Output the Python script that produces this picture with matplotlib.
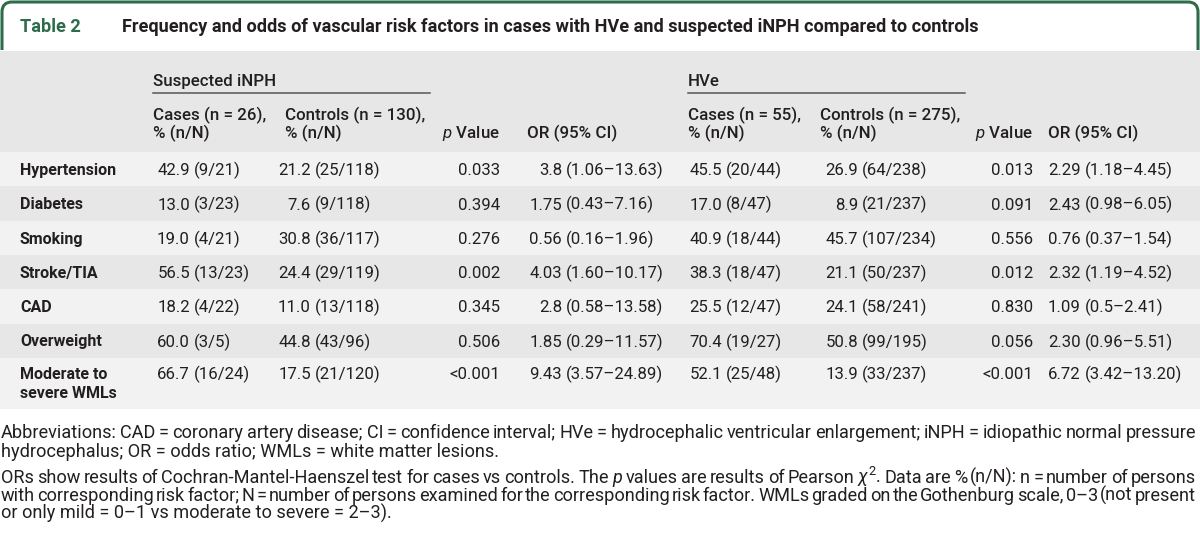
import matplotlib
matplotlib.use("Agg")
import matplotlib.pyplot as plt
from matplotlib.path import Path
from matplotlib.patches import PathPatch, Rectangle

plt.rcParams['font.family'] = ['Roboto', 'DejaVu Sans']
plt.rcParams['mathtext.fontset'] = 'custom'
plt.rcParams['mathtext.rm'] = 'Roboto'
plt.rcParams['mathtext.it'] = 'Roboto:italic'
plt.rcParams['mathtext.bf'] = 'Roboto:bold'

# ---------------- data ----------------
table_label = "Table 2"
table_title = ("Frequency and odds of vascular risk factors in cases with HVe "
               "and suspected iNPH compared to controls")
group_labels = ["Suspected iNPH", "HVe"]
col_cases_inph = ["Cases (n = 26),", "% (n/N)"]
col_ctrl_inph = ["Controls (n = 130),", "% (n/N)"]
col_cases_hve = ["Cases (n = 55),", "% (n/N)"]
col_ctrl_hve = ["Controls (n = 275),", "% (n/N)"]
col_p = "$\\mathit{p}$ Value"
col_or = "OR (95% CI)"

risk_factors = ["Hypertension", "Diabetes", "Smoking", "Stroke/TIA", "CAD",
                "Overweight", "Moderate to\nsevere WMLs"]
inph_cases = ["42.9 (9/21)", "13.0 (3/23)", "19.0 (4/21)", "56.5 (13/23)",
              "18.2 (4/22)", "60.0 (3/5)", "66.7 (16/24)"]
inph_controls = ["21.2 (25/118)", "7.6 (9/118)", "30.8 (36/117)", "24.4 (29/119)",
                 "11.0 (13/118)", "44.8 (43/96)", "17.5 (21/120)"]
inph_p = ["0.033", "0.394", "0.276", "0.002", "0.345", "0.506", "<0.001"]
inph_or = ["3.8 (1.06–13.63)", "1.75 (0.43–7.16)", "0.56 (0.16–1.96)",
           "4.03 (1.60–10.17)", "2.8 (0.58–13.58)", "1.85 (0.29–11.57)",
           "9.43 (3.57–24.89)"]
hve_cases = ["45.5 (20/44)", "17.0 (8/47)", "40.9 (18/44)", "38.3 (18/47)",
             "25.5 (12/47)", "70.4 (19/27)", "52.1 (25/48)"]
hve_controls = ["26.9 (64/238)", "8.9 (21/237)", "45.7 (107/234)", "21.1 (50/237)",
                "24.1 (58/241)", "50.8 (99/195)", "13.9 (33/237)"]
hve_p = ["0.013", "0.091", "0.556", "0.012", "0.830", "0.056", "<0.001"]
hve_or = ["2.29 (1.18–4.45)", "2.43 (0.98–6.05)", "0.76 (0.37–1.54)",
          "2.32 (1.19–4.52)", "1.09 (0.5–2.41)", "2.30 (0.96–5.51)",
          "6.72 (3.42–13.20)"]

footer_lines = [
    ("Abbreviations: CAD = coronary artery disease; CI = confidence interval; HVe = "
     "hydrocephalic ventricular enlargement; iNPH = idiopathic normal pressure", True),
    ("hydrocephalus; OR = odds ratio; WMLs = white matter lesions.", False),
    ("ORs show results of Cochran-Mantel-Haenszel test for cases vs controls. The "
     "$\\mathit{p}$ values are results of Pearson $\\chi^2$. Data are % (n/N): n = number of persons", True),
    ("with corresponding risk factor; N = number of persons examined for the "
     "corresponding risk factor. WMLs graded on the Gothenburg scale, 0–3 (not present", True),
    ("or only mild = 0–1 vs moderate to severe = 2–3).", False),
]

# ---------------- style ----------------
W, H = 1200, 537
GREEN = '#2e6b4b'
INK = '#231f20'
BAND_DARK = '#e6e7e6'
BAND_LIGHT = '#f2f2f2'

fig = plt.figure(figsize=(W / 100, H / 100), dpi=100)
ax = fig.add_axes([0, 0, 1, 1])
ax.set_xlim(0, W)
ax.set_ylim(H, 0)
ax.axis('off')
renderer = fig.canvas.get_renderer()


def tw(s, size, weight='normal'):
    t = ax.text(0, 0, s, fontsize=size, fontweight=weight)
    w = t.get_window_extent(renderer).width
    t.remove()
    return w


def fit(s, target, weight='normal'):
    return 12.0 * target / tw(s, 12.0, weight)


body_size = fit("21.2 (25/118)", 102)
label_size = fit("Hypertension", 96, 'bold')
head_size = fit("Controls (n = 130),", 140, 'medium')
title_size = fit(table_title, 853, 'bold')
foot_size = fit(footer_lines[1][0], 497)


def base(yc, size):
    # baseline y for a visual (cap-height) centre yc
    return yc + 0.36 * size * 100 / 72


# title box
r = 10
x0, x1, yt, yb = 2, 1198, 2, 50
verts = [(x0, yb), (x0, yt + r), (x0, yt), (x0 + r, yt), (x1 - r, yt), (x1, yt),
         (x1, yt + r), (x1, yb)]
codes = [Path.MOVETO, Path.LINETO, Path.CURVE3, Path.CURVE3, Path.LINETO,
         Path.CURVE3, Path.CURVE3, Path.LINETO]
ax.add_patch(PathPatch(Path(verts, codes), facecolor='white', edgecolor=GREEN,
                       lw=2.2, capstyle='butt'))
ax.text(20, base(25, 13.5), table_label, fontsize=title_size * 1.0, fontweight='bold',
        color=GREEN, va='baseline', ha='left')
ax.text(122, base(25, title_size), table_title, fontsize=title_size, fontweight='bold',
        color=INK, va='baseline', ha='left')

# table bands
head_top, head_bot = 51, 152
row_h = 34.3
last_h = 51.5
ax.add_patch(Rectangle((0, head_top), W, head_bot - head_top, color=BAND_DARK, lw=0))
row_tops = []
y = head_bot
for i in range(len(risk_factors)):
    h = last_h if '\n' in risk_factors[i] else row_h
    ax.add_patch(Rectangle((0, y), W, h, color=BAND_LIGHT if i % 2 == 0 else BAND_DARK, lw=0))
    row_tops.append(y)
    y += h

# header
for gx, glab in zip([153, 688], group_labels):
    ax.text(gx, base(80, head_size), glab, fontsize=head_size, fontweight='medium',
            color=INK, va='baseline')
    ax.plot([gx, gx + 277], [93, 93], color='#555555', lw=1.1)

for cx, lines in zip([153, 285, 688, 819.5],
                     [col_cases_inph, col_ctrl_inph, col_cases_hve, col_ctrl_hve]):
    ax.text(cx, base(114, head_size), lines[0], fontsize=head_size, fontweight='medium',
            color=INK, va='baseline')
    ax.text(cx, base(132, head_size), lines[1], fontsize=head_size, fontweight='medium',
            color=INK, va='baseline')
for px, ox in [(500, 527), (1033, 1048)]:
    ax.text(px, base(132, head_size), col_p, fontsize=head_size, fontweight='medium',
            color=INK, va='baseline', ha='right')
    ax.text(ox, base(132, head_size), col_or, fontsize=head_size, fontweight='medium',
            color=INK, va='baseline', ha='left')

space_w = tw("0 0", body_size) - tw("00", body_size)


def paren_cell(xp, yc, s):
    num, rest = s.split(' (', 1)
    yb_ = base(yc, body_size)
    ax.text(xp - space_w, yb_, num, fontsize=body_size, color=INK, ha='right', va='baseline')
    ax.text(xp, yb_, '(' + rest, fontsize=body_size, color=INK, ha='left', va='baseline')


for i, lab in enumerate(risk_factors):
    top = row_tops[i]
    yc = top + 17.2 if '\n' not in lab else top + 15.5
    for j, part in enumerate(lab.split('\n')):
        ax.text(20, base(yc + j * 19, label_size), part, fontsize=label_size,
                fontweight='bold', color=INK, va='baseline')
    paren_cell(194, yc, inph_cases[i])
    paren_cell(315, yc, inph_controls[i])
    ax.text(500, base(yc, body_size), inph_p[i], fontsize=body_size, color=INK,
            ha='right', va='baseline')
    paren_cell(566, yc, inph_or[i])
    paren_cell(726, yc, hve_cases[i])
    paren_cell(862, yc, hve_controls[i])
    ax.text(1033, base(yc, body_size), hve_p[i], fontsize=body_size, color=INK,
            ha='right', va='baseline')
    paren_cell(1085, yc, hve_or[i])

# footer
foot_y = [431, 450, 476, 494, 512]
left, right = 1, 1196
for (line, justify), yc in zip(footer_lines, foot_y):
    yb_ = base(yc, foot_size)
    if not justify:
        ax.text(left, yb_, line, fontsize=foot_size, color=INK, va='baseline')
        continue
    words = line.split(' ')
    widths = [tw(w_, foot_size) for w_ in words]
    gap = (right - left - sum(widths)) / (len(words) - 1)
    x = left
    for w_, wd in zip(words, widths):
        ax.text(x, yb_, w_, fontsize=foot_size, color=INK, va='baseline')
        x += wd + gap

fig.savefig("out.png", dpi=100)
